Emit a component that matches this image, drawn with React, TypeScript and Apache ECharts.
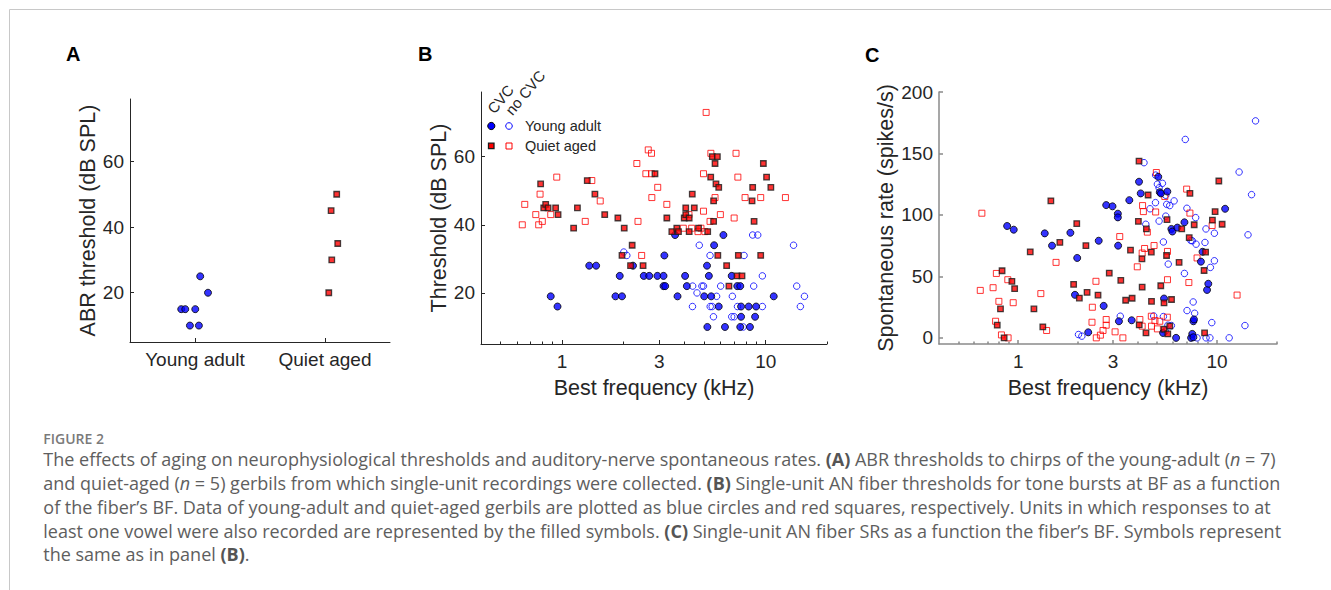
import React, { useEffect, useRef } from "react";
import * as echarts from "echarts";

// ---------- Panel A: ABR thresholds ----------
const abrCategories = ["Young adult", "Quiet aged"];
const abrYoungX = [1.04, 1.1, 0.894, 0.925, 1.002, 0.961, 1.03];
const abrYoung = [25, 20, 15, 15, 15, 10, 10];
const abrAgedX = [2.09, 2.047, 2.098, 2.052, 2.029];
const abrAged = [50, 45, 35, 30, 20];
const abrTicks = [20, 40, 60];

// ---------- Panel B: thresholds vs best frequency [kHz, dB SPL] ----------
const thrYoungCvc = [
  [0.88, 19], [0.95, 16], [1.36, 28], [1.47, 28], [1.83, 19], [1.97, 19], [1.92, 25], [2.23, 28],
  [2.52, 25], [2.68, 25], [2.94, 25], [3.15, 25], [3.15, 22], [3.21, 22], [3.18, 31], [3.59, 37],
  [3.69, 19], [4.02, 25], [4.1, 22], [4.99, 19], [5.15, 28], [5.26, 25], [5.17, 10], [5.4, 19],
  [5.58, 34], [5.88, 16], [6.2, 37], [6.31, 10], [6.81, 25], [7.25, 22], [7.5, 22], [7.57, 16],
  [7.57, 13], [7.5, 10], [8.25, 16], [8.37, 10], [8.87, 13], [8.97, 16], [10.95, 19],
];
const thrYoungNoCvc = [
  [2.01, 32], [2.08, 31], [4.37, 16], [4.6, 20], [4.72, 34], [4.38, 22], [4.86, 22], [4.95, 22],
  [5.33, 31], [5.34, 16], [5.46, 16], [5.54, 13], [5.74, 19], [6.01, 22], [6.81, 13], [6.86, 19],
  [7.0, 13], [7.27, 16], [7.75, 10], [7.83, 31], [8.63, 37], [9.14, 37], [8.73, 22], [9.63, 25],
  [9.63, 16], [13.7, 34], [14.2, 22], [14.8, 16], [15.5, 19],
];
const thrAgedCvc = [
  [0.785, 52], [0.813, 45], [0.831, 46], [0.854, 45], [0.93, 45], [0.956, 43], [1.14, 39], [1.19, 45],
  [1.33, 53], [1.45, 49], [1.62, 43], [1.88, 42], [2.02, 39], [1.97, 31], [2.21, 34], [2.17, 28],
  [2.5, 28], [2.86, 55], [3.27, 42], [3.46, 38], [3.66, 39], [3.73, 38], [3.98, 42], [4.05, 43],
  [4.05, 45], [4.21, 42], [4.21, 38], [4.36, 49], [4.46, 45], [4.68, 39], [5.19, 38], [5.37, 54],
  [5.47, 60], [5.79, 60], [5.64, 58], [5.7, 52], [5.88, 51], [5.55, 47], [5.55, 41], [5.82, 31],
  [6.43, 28], [6.6, 22], [7.23, 25], [7.65, 25], [7.34, 31], [8.57, 47], [8.63, 51], [8.77, 41],
  [9.45, 31], [9.74, 58], [10.1, 54], [10.6, 51],
];
const thrAgedNoCvc = [
  [0.638, 40], [0.656, 46], [0.743, 43], [0.768, 40], [0.78, 49], [0.8, 41], [0.88, 43], [0.942, 54],
  [1.3, 41], [1.4, 53], [1.54, 47], [2.33, 58], [2.36, 41], [2.46, 31], [2.65, 62], [2.75, 61],
  [2.58, 55], [2.75, 55], [2.76, 48], [2.95, 51], [3.27, 46], [3.94, 39], [4.2, 43], [4.33, 39],
  [4.65, 38], [4.81, 39], [4.95, 44], [4.95, 55], [5.03, 38], [5.1, 73], [5.33, 41], [5.38, 61],
  [5.64, 48], [5.99, 43], [7.0, 42], [7.15, 61], [7.3, 54], [7.92, 48], [9.45, 48], [12.5, 48],
];
const thrTicks = [20, 40, 60];

// ---------- Panel C: spontaneous rates vs best frequency [kHz, spikes/s] ----------
const srYoungCvc = [
  [0.88, 91], [0.95, 88], [1.36, 85], [1.48, 75], [1.83, 85.5], [1.98, 65], [1.93, 35], [2.25, 4.5],
  [2.54, 79], [2.69, 26], [2.77, 108], [2.98, 107], [3.17, 101], [3.17, 98], [3.18, 75], [3.21, 13.5],
  [3.62, 112], [3.72, 14.3], [4.05, 127], [4.13, 117.5], [5.06, 131], [5.15, 118.5], [5.22, 117.5],
  [5.62, 119], [5.35, 4], [5.41, 32], [5.89, 88.6], [5.96, 86.5], [6.31, 89.7], [6.22, 0], [6.85, 94],
  [7.4, 0], [7.5, 3.2], [7.6, 0.5], [7.6, 13.5], [7.65, 15], [8.29, 62], [8.45, 70], [8.9, 39],
  [9.03, 44], [10.97, 105],
];
const srYoungNoCvc = [
  [2.01, 2.7], [2.09, 1.4], [3.26, 17.6], [4.29, 142.5], [4.38, 92.4], [4.6, 105], [4.8, 17.8],
  [4.9, 110], [4.91, 132.4], [5.01, 125], [5.11, 122], [5.31, 125.7], [5.11, 95], [5.52, 116],
  [5.52, 99], [5.58, 108.6], [5.78, 107.6], [6.08, 111.4], [5.37, 78], [5.37, 17.3], [5.49, 5.4],
  [5.66, 10.3], [5.89, 10], [5.68, 60], [6.85, 52.4], [6.92, 161.4], [7.05, 105.4], [7.06, 22.2],
  [7.38, 79.2], [7.5, 79], [7.58, 29.2], [7.71, 20], [7.8, 97.8], [7.84, 76.2], [7.93, 0],
  [8.69, 77.6], [8.79, 88.6], [8.8, 0], [9.2, 0], [9.25, 57.3], [9.4, 12.4], [9.69, 62.7],
  [9.69, 85.1], [11.5, 0], [12.9, 134.9], [13.8, 10], [14.3, 83.8], [14.9, 116.5], [15.6, 176.5],
];
const srAgedCvc = [
  [0.785, 10.3], [0.815, 23.5], [0.83, 54.6], [0.85, 0], [0.93, 46], [0.96, 40], [1.15, 70],
  [1.2, 23.5], [1.33, 9], [1.46, 111.5], [1.62, 77.6], [1.9, 43.5], [1.97, 93], [2.03, 32.4],
  [2.19, 75], [2.22, 37], [2.52, 34.8], [2.87, 52.7], [3.28, 46.8], [3.47, 30.6], [3.74, 32.2],
  [3.67, 71.4], [4.02, 94.8], [4.05, 143.8], [4.06, 10.5], [4.19, 64.3], [4.2, 41.2], [4.39, 4],
  [4.41, 88.6], [4.5, 116.2], [4.67, 69.8], [4.68, 29.7], [5.21, 42.4], [5.41, 28.4], [5.41, 7],
  [5.57, 67], [5.6, 96.2], [5.65, 3.2], [5.78, 9.5], [5.9, 31.2], [6.44, 61.4], [6.64, 88.6],
  [7.24, 81.5], [7.3, 117.6], [7.67, 92], [8.6, 54.8], [8.65, 4], [8.75, 69.8], [9.47, 95.7],
  [9.77, 102.7], [10.2, 127.6], [10.6, 92.4],
];
const srAgedNoCvc = [
  [0.645, 38.6], [0.657, 101.4], [0.748, 40.8], [0.77, 13.5], [0.777, 52.4], [0.8, 29.7],
  [0.824, 2.4], [0.887, 47.3], [0.89, 0], [0.944, 28.6], [1.3, 36], [1.39, 6], [1.55, 61.4],
  [2.35, 12.7], [2.36, 24.9], [2.46, 46], [2.47, 0], [2.59, 2.2], [2.67, 6], [2.77, 10.3],
  [2.77, 14.9], [3.07, 4.9], [3.24, 82.4], [3.36, 0], [3.97, 57.8], [4.09, 14.9], [4.2, 69],
  [4.2, 9.5], [4.22, 107.6], [4.26, 102.7], [4.32, 72.7], [4.46, 86], [4.67, 17.6], [4.68, 9.5],
  [4.82, 75.1], [4.87, 14], [4.91, 102.4], [4.95, 134.5], [5.01, 7.3], [5.15, 13.5], [5.46, 115],
  [5.62, 16.8], [5.63, 70.3], [5.63, 47.3], [7.03, 121], [7.21, 45], [7.3, 101.5], [7.93, 65],
  [9.44, 91.4], [12.6, 34.8],
];
const srTicks = [0, 50, 100, 150, 200];

// ---------- shared frequency axis ticks ----------
const freqTicks = [1, 3, 10];
const freqMinorTicks = [0.5, 0.6, 0.7, 0.8, 0.9, 2, 4, 5, 6, 7, 8, 9, 20];

// ---------- caption ----------
const captionTitle = "FIGURE 2";
const captionLines = [
  "The effects of aging on neurophysiological thresholds and auditory-nerve spontaneous rates. {b|(A)} ABR thresholds to chirps of the young-adult ({i|n} = 7)",
  "and quiet-aged ({i|n} = 5) gerbils from which single-unit recordings were collected. {b|(B)} Single-unit AN fiber thresholds for tone bursts at BF as a function",
  "of the fiber\u2019s BF. Data of young-adult and quiet-aged gerbils are plotted as blue circles and red squares, respectively. Units in which responses to at",
  "least one vowel were also recorded are represented by the filled symbols. {b|(C)} Single-unit AN fiber SRs as a function the fiber\u2019s BF. Symbols represent",
  "the same as in panel {b|(B)}.",
];

const FONT = '"Liberation Sans", Arial, Helvetica, sans-serif';
const CAP_FONT = '"Open Sans", "Noto Sans", sans-serif';
const CAP_SIZE = 18;
const CAP_COLOR = "#5e5e5e";
const INK = "#262626";
const BLUE = "#0000ff";
const RED = "#ff0000";

const filledCircle = { symbol: "circle", symbolSize: 7, itemStyle: { color: BLUE, borderColor: "#000", borderWidth: 1 } };
const openCircle = { symbol: "circle", symbolSize: 6.5, itemStyle: { color: "rgba(0,0,0,0)", borderColor: BLUE, borderWidth: 1 } };
const filledSquare = { symbol: "rect", symbolSize: 5.5, itemStyle: { color: RED, borderColor: "#1a1a1a", borderWidth: 1.3 } };
const openSquare = { symbol: "rect", symbolSize: 6, itemStyle: { color: "rgba(0,0,0,0)", borderColor: RED, borderWidth: 1 } };

function labelStyle(size: number) {
  return { fontFamily: FONT, fontSize: size, color: INK };
}

function valueYAxis(grid: number, min: number, max: number, ticks: number[], name: string, gap: number, lineColor: string, lineWidth: number) {
  return {
    type: "value",
    gridIndex: grid,
    min,
    max,
    name,
    nameLocation: "middle",
    nameGap: gap,
    nameTextStyle: labelStyle(21.5),
    axisLine: { show: true, lineStyle: { color: lineColor, width: lineWidth } },
    axisTick: { show: true, inside: true, length: 4, customValues: ticks, lineStyle: { color: lineColor, width: lineWidth } },
    axisLabel: { customValues: ticks, margin: 6, ...labelStyle(19) },
    splitLine: { show: false },
  };
}

function logXAxis(grid: number, lineColor: string, lineWidth: number) {
  return {
    type: "log",
    logBase: 10,
    gridIndex: grid,
    position: "bottom",
    min: 0.4,
    max: 20,
    name: "Best frequency (kHz)",
    nameLocation: "middle",
    nameGap: 33,
    nameTextStyle: labelStyle(21.5),
    axisLine: { show: true, onZero: false, lineStyle: { color: lineColor, width: lineWidth } },
    axisTick: { show: true, inside: true, length: 4, customValues: freqTicks, lineStyle: { color: lineColor, width: lineWidth } },
    axisLabel: { customValues: freqTicks, margin: 8, ...labelStyle(19), formatter: (v: number) => String(v) },
    splitLine: { show: false },
    minorTick: { show: false },
  };
}

function minorXAxis(grid: number, lineColor: string, lineWidth: number) {
  return {
    type: "log",
    logBase: 10,
    gridIndex: grid,
    position: "bottom",
    offset: 0,
    min: 0.4,
    max: 20,
    axisLine: { show: false, onZero: false },
    axisTick: { show: true, inside: true, length: 2.5, customValues: freqMinorTicks, lineStyle: { color: lineColor, width: lineWidth } },
    axisLabel: { show: false },
    splitLine: { show: false },
  };
}

function scatter(xi: number, yi: number, data: number[][], style: object) {
  return { type: "scatter", xAxisIndex: xi, yAxisIndex: yi, data, silent: true, z: 3, ...style };
}

function buildOption() {
  const gray = "#8a8a8a";
  const rot = (50 * Math.PI) / 180;
  const graphic: any[] = [
    { type: "line", shape: { x1: 9.5, y1: 9.5, x2: 1331, y2: 9.5 }, style: { stroke: "#c8c8c8", lineWidth: 1 } },
    { type: "line", shape: { x1: 9.5, y1: 9.5, x2: 9.5, y2: 590 }, style: { stroke: "#c8c8c8", lineWidth: 1 } },
    { type: "text", x: 66, y: 54, style: { text: "A", font: `bold 20px ${FONT}`, fill: "#000", textVerticalAlign: "middle" } },
    { type: "text", x: 418, y: 54, style: { text: "B", font: `bold 20px ${FONT}`, fill: "#000", textVerticalAlign: "middle" } },
    { type: "text", x: 865, y: 54.5, style: { text: "C", font: `bold 20px ${FONT}`, fill: "#000", textVerticalAlign: "middle" } },
    // legend of panel B
    { type: "text", x: 496, y: 116, rotation: rot, style: { text: "CVC", font: `15px ${FONT}`, fill: INK, textVerticalAlign: "bottom" } },
    { type: "text", x: 514, y: 117.5, rotation: rot, style: { text: "no CVC", font: `15px ${FONT}`, fill: INK, textVerticalAlign: "bottom" } },
    { type: "circle", shape: { cx: 491.3, cy: 126, r: 3.6 }, style: { fill: BLUE, stroke: "#000", lineWidth: 1 } },
    { type: "circle", shape: { cx: 509, cy: 126, r: 3.3 }, style: { fill: "none", stroke: BLUE, lineWidth: 1 } },
    { type: "rect", shape: { x: 488.5, y: 143.2, width: 5.5, height: 5.5 }, style: { fill: RED, stroke: "#1a1a1a", lineWidth: 1.3 } },
    { type: "rect", shape: { x: 506, y: 143, width: 6, height: 6 }, style: { fill: "none", stroke: RED, lineWidth: 1 } },
    { type: "text", x: 525, y: 126, style: { text: "Young adult", font: `14.5px ${FONT}`, fill: INK, textVerticalAlign: "middle" } },
    { type: "text", x: 525, y: 146, style: { text: "Quiet aged", font: `14.5px ${FONT}`, fill: INK, textVerticalAlign: "middle" } },
    // caption
    { type: "text", x: 43.3, y: 438, style: { text: captionTitle, font: `600 14px ${CAP_FONT}`, fill: "#7a7a7a", textVerticalAlign: "middle" } },
  ];
  const capY = [459.2, 483, 506.7, 530.5, 554.2];
  captionLines.forEach((line, i) => {
    graphic.push({
      type: "text",
      x: 43.3,
      y: capY[i],
      style: {
        text: line,
        font: `${CAP_SIZE}px ${CAP_FONT}`,
        fill: CAP_COLOR,
        textVerticalAlign: "middle",
        rich: {
          b: { fontFamily: CAP_FONT, fontSize: CAP_SIZE, fontWeight: "bold", fill: "#555" },
          i: { fontFamily: CAP_FONT, fontSize: CAP_SIZE, fontStyle: "italic", fill: CAP_COLOR },
        },
      },
    });
  });

  return {
    animation: false,
    backgroundColor: "#ffffff",
    grid: [
      { left: 130, top: 99, width: 260, height: 243 },
      { left: 481, top: 92, width: 346, height: 252 },
      { left: 939, top: 92, width: 338, height: 252 },
    ],
    xAxis: [
      {
        type: "value",
        gridIndex: 0,
        min: 0.5,
        max: 2.5,
        axisLine: { show: true, onZero: false, lineStyle: { color: INK, width: 1 } },
        axisTick: { show: true, inside: true, length: 4, customValues: [1, 2], lineStyle: { color: INK } },
        axisLabel: {
          customValues: [1, 2],
          margin: 8,
          ...labelStyle(19),
          formatter: (v: number) => abrCategories[Math.round(v) - 1] ?? "",
        },
        splitLine: { show: false },
      },
      logXAxis(1, INK, 1),
      logXAxis(2, gray, 1.5),
      minorXAxis(1, INK, 1),
      minorXAxis(2, gray, 1.5),
    ],
    yAxis: [
      valueYAxis(0, 5, 79, abrTicks, "ABR threshold (dB SPL)", 29, INK, 1),
      valueYAxis(1, 5, 79, thrTicks, "Threshold (dB SPL)", 28, INK, 1),
      valueYAxis(2, -5, 200, srTicks, "Spontaneous rate (spikes/s)", 39, gray, 1.5),
    ],
    series: [
      scatter(0, 0, abrYoungX.map((x, i) => [x, abrYoung[i]]), filledCircle),
      scatter(0, 0, abrAgedX.map((x, i) => [x, abrAged[i]]), filledSquare),
      scatter(1, 1, thrYoungNoCvc, openCircle),
      scatter(1, 1, thrAgedNoCvc, openSquare),
      scatter(1, 1, thrYoungCvc, filledCircle),
      scatter(1, 1, thrAgedCvc, filledSquare),
      scatter(2, 2, srYoungNoCvc, openCircle),
      scatter(2, 2, srAgedNoCvc, openSquare),
      scatter(2, 2, srYoungCvc, filledCircle),
      scatter(2, 2, srAgedCvc, filledSquare),
    ],
    graphic,
  };
}

export default function App() {
  const ref = useRef<HTMLDivElement>(null);
  useEffect(() => {
    if (!ref.current) return;
    const chart = echarts.init(ref.current, undefined, { renderer: "svg" });
    chart.setOption(buildOption() as any);
    return () => chart.dispose();
  }, []);
  return (
    <div
      ref={ref}
      style={{ position: "absolute", left: 0, top: 0, width: 1331, height: 590, background: "#fff" }}
    />
  );
}
